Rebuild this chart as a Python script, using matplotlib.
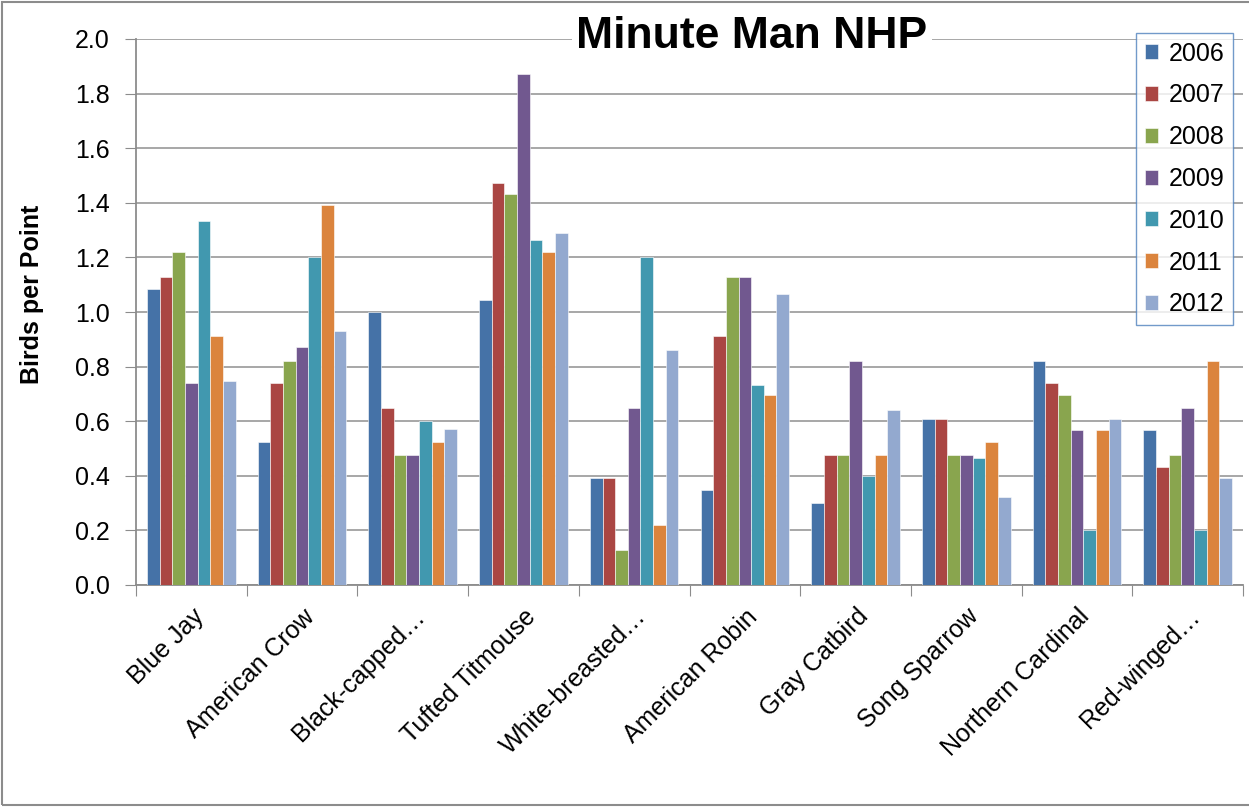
import matplotlib
matplotlib.use("Agg")
import matplotlib.pyplot as plt
import numpy as np
from matplotlib.patches import Rectangle

categories = ["Blue Jay", "American Crow", "Black-capped…", "Tufted Titmouse",
              "White-breasted…", "American Robin", "Gray Catbird", "Song Sparrow",
              "Northern Cardinal", "Red-winged…"]
years = ["2006", "2007", "2008", "2009", "2010", "2011", "2012"]

v2006 = [1.086, 0.523, 1.000, 1.043, 0.391, 0.349, 0.302, 0.607, 0.822, 0.566]
v2007 = [1.128, 0.739, 0.649, 1.474, 0.391, 0.911, 0.475, 0.607, 0.739, 0.434]
v2008 = [1.218, 0.822, 0.475, 1.433, 0.129, 1.128, 0.475, 0.475, 0.697, 0.475]
v2009 = [0.739, 0.870, 0.475, 1.870, 0.649, 1.128, 0.822, 0.475, 0.566, 0.649]
v2010 = [1.335, 1.202, 0.599, 1.264, 1.202, 0.733, 0.400, 0.466, 0.200, 0.200]
v2011 = [0.911, 1.391, 0.523, 1.218, 0.218, 0.697, 0.475, 0.523, 0.566, 0.822]
v2012 = [0.748, 0.931, 0.570, 1.288, 0.860, 1.067, 0.640, 0.321, 0.607, 0.391]
series = [v2006, v2007, v2008, v2009, v2010, v2011, v2012]

colors = ["#4572A7", "#AA4643", "#89A54E", "#71588F", "#4198AF", "#DB843D", "#93A9CF"]

plt.rcParams['font.family'] = ['Liberation Sans', 'DejaVu Sans']

fig = plt.figure(figsize=(12.49, 8.07), dpi=100)
ax = fig.add_axes([136/1249, 1-585/807, (1243-136)/1249, (585-39)/807])

n = len(years)
group_w = 0.8
bw = group_w / n
x = np.arange(len(categories))
for i, (yr, vals, c) in enumerate(zip(years, series, colors)):
    ax.bar(x - group_w/2 + bw*(i+0.5), vals, width=bw, color=c, label=yr,
           edgecolor='white', linewidth=0.4, zorder=3)

ax.set_xlim(-0.5, len(categories)-0.5)
ax.set_ylim(0, 2.0)
yt = np.arange(0, 2.01, 0.2)
ax.set_yticks(yt)
ax.set_yticklabels([f"{v:.1f}" for v in yt], fontsize=18)
ax.yaxis.grid(True, color='#A0A0A0', linewidth=1.3, zorder=0)
ax.set_axisbelow(True)

ax.set_xticks(np.arange(-0.5, len(categories)+0.5, 1.0))
ax.set_xticklabels([])
ax.set_xticks(x, minor=True)
ax.set_xticklabels(categories, minor=True, rotation=45, ha='right',
                   rotation_mode='anchor', fontsize=18)
ax.tick_params(axis='x', which='minor', length=0, pad=14)
ax.tick_params(axis='x', which='major', length=8, color='#8C8C8C', direction='out')
ax.tick_params(axis='y', length=8, color='#8C8C8C', direction='out', pad=11)

for s in ['top', 'right']:
    ax.spines[s].set_visible(False)
for s in ['left', 'bottom']:
    ax.spines[s].set_color('#8C8C8C')
    ax.spines[s].set_linewidth(1.3)

ax.set_ylabel("Birds per Point", fontsize=18, fontweight='bold')
ax.yaxis.set_label_coords((44-136)/1107, (585-294)/546)

fig.text(752/1249, 1-48/807, "Minute Man NHP", fontsize=32, fontweight='bold',
         ha='center', va='baseline',
         bbox=dict(facecolor='white', edgecolor='none', pad=3))

leg = fig.legend(loc='upper right', bbox_to_anchor=(1233/1249, 1-33/807),
                 fontsize=18, frameon=True, fancybox=False, handlelength=0.55,
                 handleheight=0.55, handletextpad=0.4, labelspacing=0.71,
                 borderpad=0.35, borderaxespad=0)
leg.get_frame().set_edgecolor('#4F81BD')
leg.get_frame().set_linewidth(1.0)

fig.patches.append(Rectangle((2/1249, 2/807), 1.2, 1-4/807, transform=fig.transFigure,
                             fill=False, edgecolor='#8C8C8C', linewidth=1.5))

fig.savefig("out.png", dpi=100)
